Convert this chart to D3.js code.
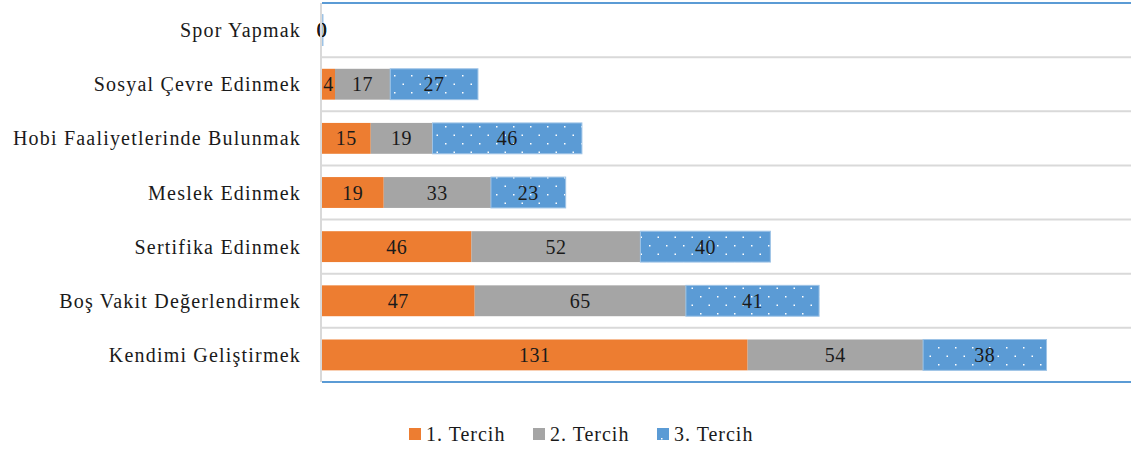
<!DOCTYPE html>
<html>
<head>
<meta charset="utf-8">
<script src="https://cdn.jsdelivr.net/npm/d3@7"></script>
<style>
  body { margin: 0; background: #fff; }
  text { font-family: "Liberation Serif", serif; fill: #1a1a1a; }
</style>
</head>
<body>
<div id="chart"></div>
<script>
// data, top to bottom
var categories = ["Spor Yapmak", "Sosyal Çevre Edinmek", "Hobi Faaliyetlerinde Bulunmak",
                  "Meslek Edinmek", "Sertifika Edinmek", "Boş Vakit Değerlendirmek", "Kendimi Geliştirmek"];
var tercih1 = [0, 4, 15, 19, 46, 47, 131];
var tercih2 = [0, 17, 19, 33, 52, 65, 54];
var tercih3 = [0, 27, 46, 23, 40, 41, 38];
var seriesNames = ["1. Tercih", "2. Tercih", "3. Tercih"];
var xMax = 249;

var total_width = 1132, total_height = 450;
var margin = {top: 3, right: 1, bottom: 68, left: 322},
    width = total_width - margin.left - margin.right,
    height = total_height - margin.top - margin.bottom;

var colors = ["#ED7D31", "#A5A5A5", "#5B9BD5"];

var svg = d3.select("#chart").append("svg")
    .attr("width", total_width)
    .attr("height", total_height);

// dotted pattern for 3rd series
var defs = svg.append("defs");
var pat = defs.append("pattern")
    .attr("id", "dots")
    .attr("patternUnits", "userSpaceOnUse")
    .attr("width", 17)
    .attr("height", 17);
pat.append("rect").attr("width", 17).attr("height", 17).attr("fill", colors[2]);
pat.append("rect").attr("x", 4).attr("y", 4).attr("width", 1.5).attr("height", 1.5).attr("fill", "#fff");
pat.append("rect").attr("x", 12.5).attr("y", 12.5).attr("width", 1.5).attr("height", 1.5).attr("fill", "#fff");

var g = svg.append("g")
    .attr("transform", "translate(" + margin.left + "," + margin.top + ")");

var x = d3.scaleLinear().domain([0, xMax]).range([0, width]);
var y = d3.scaleBand().domain(categories).range([0, height]).paddingInner(0.43).paddingOuter(0.215);
var yBand = d3.scaleBand().domain(categories).range([0, height]);

// gridlines between categories
g.append("g")
  .selectAll("line")
  .data(categories.slice(1))
  .enter()
  .append("line")
    .attr("x1", 0)
    .attr("x2", width)
    .attr("y1", d => yBand(d))
    .attr("y2", d => yBand(d))
    .attr("stroke", "#d9d9d9")
    .attr("stroke-width", 2);

// top and bottom blue lines
g.append("line")
    .attr("x1", 0).attr("x2", width)
    .attr("y1", 0).attr("y2", 0)
    .attr("stroke", "#5B9BD5").attr("stroke-width", 2);
g.append("line")
    .attr("x1", 0).attr("x2", width)
    .attr("y1", height).attr("y2", height)
    .attr("stroke", "#5B9BD5").attr("stroke-width", 2);

// stacked data
var rows = categories.map(function (c, i) {
  return {cat: c, values: [tercih1[i], tercih2[i], tercih3[i]]};
});
var segs = [];
rows.forEach(function (r) {
  var x0 = 0;
  r.values.forEach(function (v, k) {
    segs.push({cat: r.cat, k: k, v: v, x0: x0, x1: x0 + v});
    x0 += v;
  });
});

g.append("g")
  .selectAll("rect")
  .data(segs)
  .enter()
  .append("rect")
    .attr("x", d => x(d.x0))
    .attr("y", d => y(d.cat))
    // zero-valued last segment still shows as a thin outline, as in the original
    .attr("width", d => d.k == 2 ? Math.max(1, x(d.x1) - x(d.x0)) : x(d.x1) - x(d.x0))
    .attr("height", y.bandwidth())
    .attr("fill", d => d.k == 2 ? "url(#dots)" : colors[d.k])
    .attr("stroke", d => d.k == 2 ? "#9dc3e6" : "none")
    .attr("stroke-width", 1);

// value labels
g.append("g")
  .selectAll("text")
  .data(segs)
  .enter()
  .append("text")
    .attr("x", d => (x(d.x0) + x(d.x1)) / 2)
    .attr("y", d => y(d.cat) + y.bandwidth() / 2)
    .attr("dy", "0.35em")
    .attr("text-anchor", "middle")
    .style("font-size", "20px")
    .style("letter-spacing", "0.5px")
    .text(d => d.v);

// left axis line
g.append("line")
    .attr("x1", -1).attr("x2", -1)
    .attr("y1", 0).attr("y2", height)
    .attr("stroke", "#d9d9d9").attr("stroke-width", 2);

// category labels
g.append("g")
  .selectAll("text")
  .data(categories)
  .enter()
  .append("text")
    .attr("x", -21)
    .attr("y", d => y(d) + y.bandwidth() / 2)
    .attr("dy", "0.35em")
    .attr("text-anchor", "end")
    .style("font-size", "20px")
    .style("letter-spacing", "1.2px")
    .text(d => d);

// legend
var legend = svg.append("g").attr("transform", "translate(409,434)");
var legX = [0, 124, 248];
seriesNames.forEach(function (name, k) {
  var lg = legend.append("g").attr("transform", "translate(" + legX[k] + ",0)");
  lg.append("rect")
      .attr("x", 0).attr("y", -6)
      .attr("width", 12).attr("height", 12)
      .attr("fill", k == 2 ? "url(#dots)" : colors[k]);
  lg.append("text")
      .attr("x", 17).attr("y", 0)
      .attr("dy", "0.35em")
      .style("font-size", "20px")
      .style("letter-spacing", "1px")
      .text(name);
});
</script>
</body>
</html>
